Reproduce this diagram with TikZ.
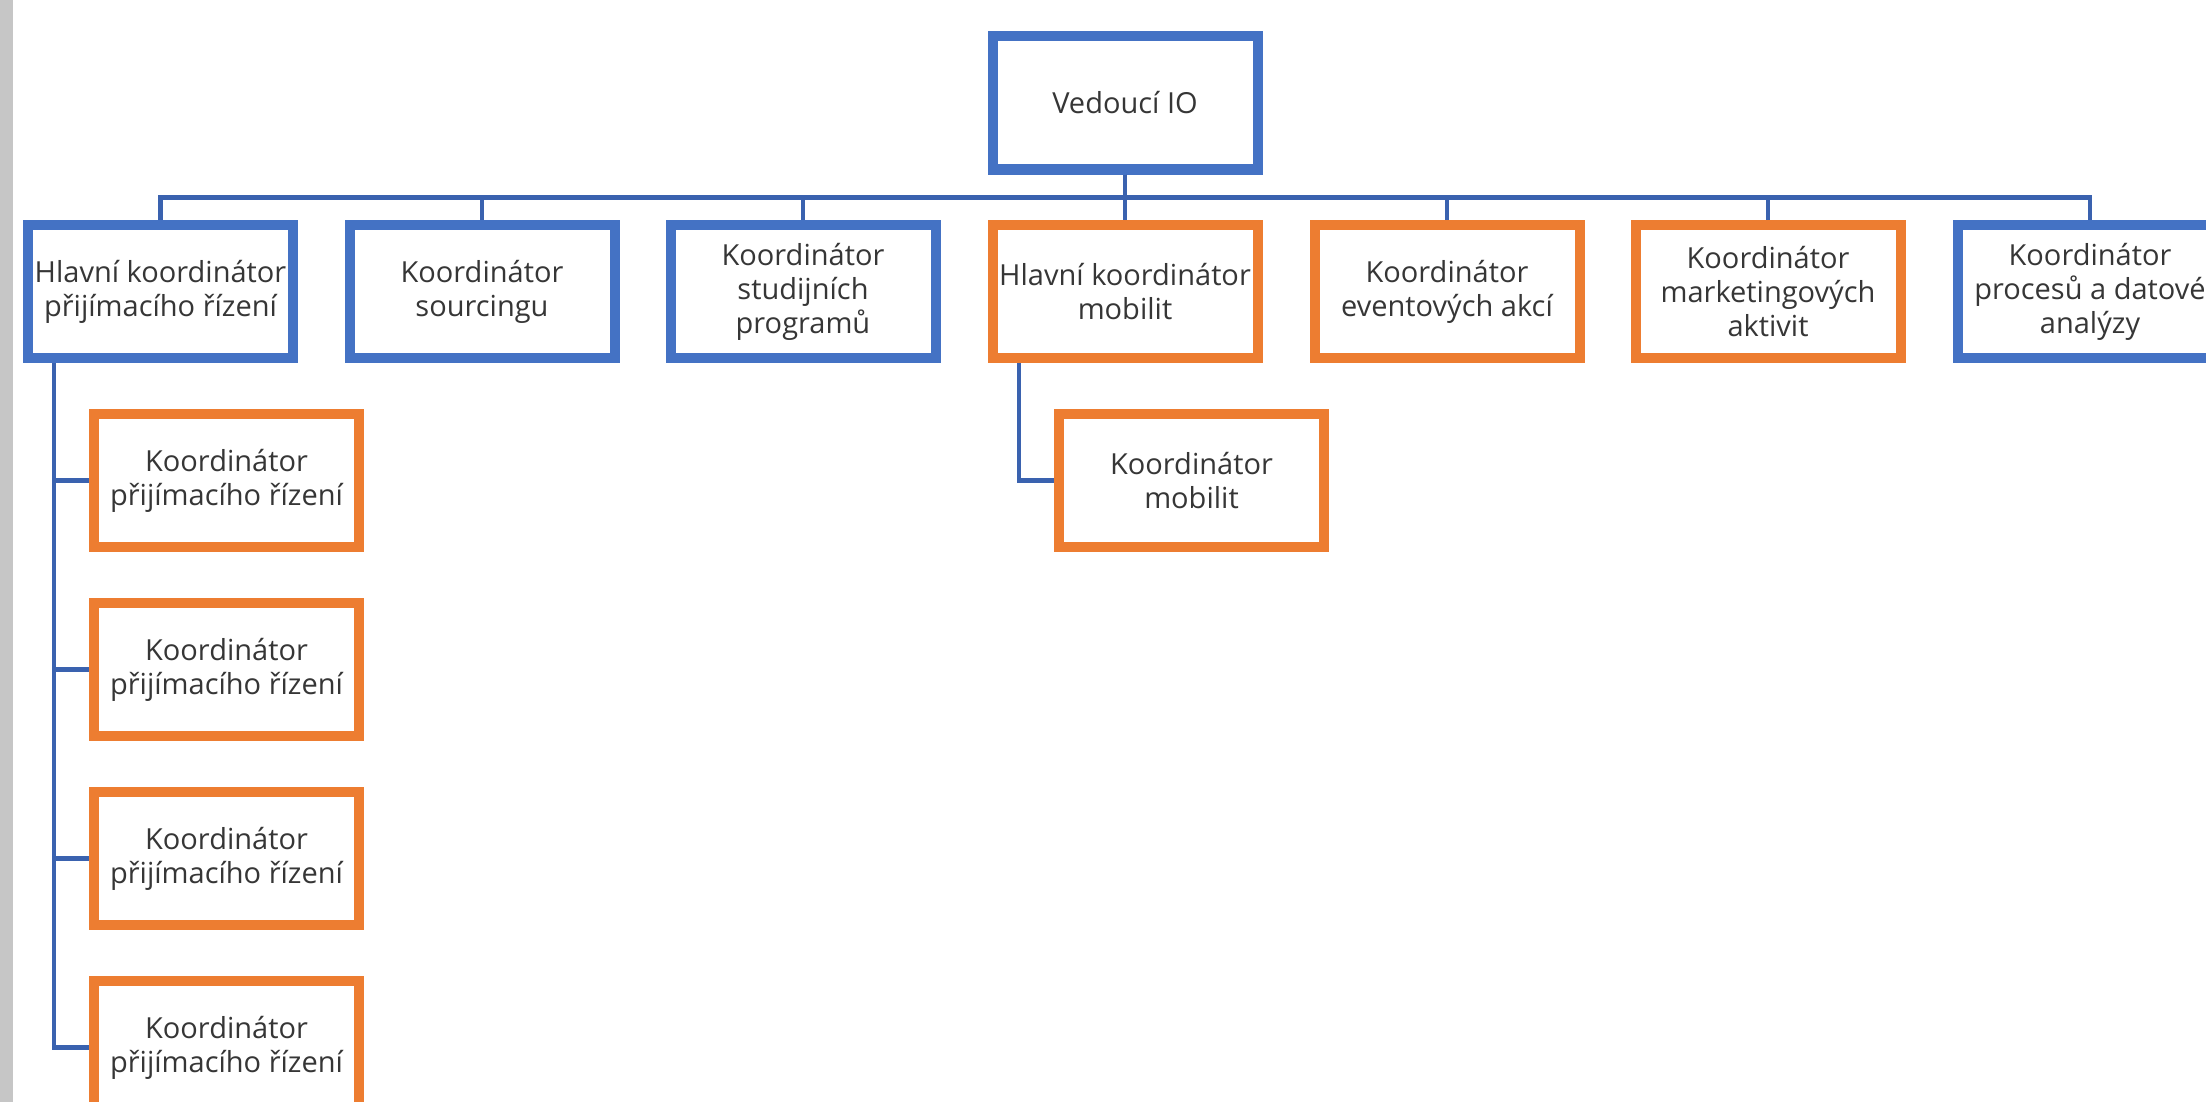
\documentclass[tikz,border=0pt]{standalone}
\usepackage{fontspec}
\setmainfont{Open Sans}
\definecolor{boxblue}{HTML}{4472C4}
\definecolor{boxorange}{HTML}{ED7D31}
\definecolor{linkblue}{HTML}{3A62AF}
\definecolor{textgray}{HTML}{363636}
\definecolor{margingray}{HTML}{C6C6C6}
\begin{document}
\begin{tikzpicture}[x=0.5pt,y=-0.5pt,
    unit/.style={line width=5pt,minimum width=132.5pt,minimum height=66.5pt,
      inner sep=0pt,align=center,text=textgray,font=\fontsize{14.5}{17}\selectfont},
    bluebox/.style={unit,draw=boxblue},
    orangebox/.style={unit,draw=boxorange},
    link/.style={draw=linkblue,line width=2.3pt}]
      \clip (0,0) rectangle (2206,1102);
      \fill[white] (0,0) rectangle (2206,1102);
      \fill[margingray] (0,0) rectangle (13,1102);

      \node[bluebox](VIO) at(1125,103) {Vedoucí IO};
      \node[bluebox](HKPR) at(160.5,291.5) {Hlavní koordinátor\\přijímacího řízení};
      \node[bluebox](KS) at(482,291.5) {Koordinátor\\sourcingu};
      \node[bluebox](KSP) at(803,291.5) {Koordinátor\\studijních\\programů};
      \node[orangebox](HKM) at(1125,291.5) {Hlavní koordinátor\\mobilit};
      \node[orangebox](KEA) at(1447,291.5) {Koordinátor\\eventových akcí};
      \node[orangebox](KMA) at(1768,291.5) {Koordinátor\\marketingových\\aktivit};
      \node[bluebox](KPDA) at(2090,291.5) {Koordinátor\\procesů a datové\\analýzy};
      \node[orangebox](KPR1) at(226.5,480.5) {Koordinátor\\přijímacího řízení};
      \node[orangebox](KPR2) at(226.5,669.5) {Koordinátor\\přijímacího řízení};
      \node[orangebox](KPR3) at(226.5,858.5) {Koordinátor\\přijímacího řízení};
      \node[orangebox](KPR4) at(226.5,1047.5) {Koordinátor\\přijímacího řízení};
      \node[orangebox](KM) at(1191.5,480.5) {Koordinátor\\mobilit};

      \foreach \x in {HKPR,KS,KSP,HKM,KEA,KMA,KPDA}{
        \draw[link](VIO.south)--++(0,23)-|(\x.north);
      }
      \foreach \x in {KPR1,KPR2,KPR3,KPR4}{
        \draw[link]([xshift=15.5pt]HKPR.south west)|-(\x.west);
      }
      \draw[link]([xshift=15.75pt]HKM.south west)|-(KM.west);
\end{tikzpicture}
\end{document}
